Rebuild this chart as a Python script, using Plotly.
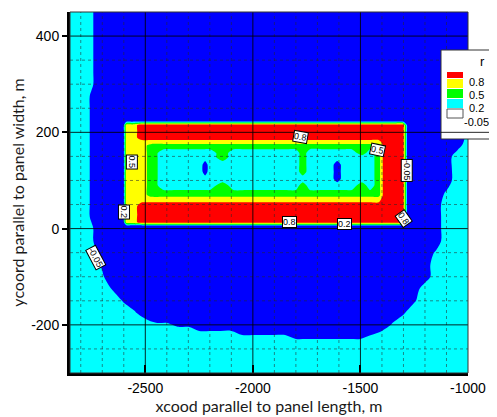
import plotly.graph_objects as go

# ---------------- data: digitised r field ----------------
# letter -> r value at that grid node (read from the picture's colour bands)
CODE_VALUE = {"B": -0.15, "b": -0.07, "c": -0.03, "C": 0.05,
              "G": 0.35, "Y": 0.65, "R": 0.95}

# contour levels of the legend and their fill colours
LEVELS = [-0.05, 0.2, 0.5, 0.8]
LEVEL_COLORS = ["#00ffff", "#00ff00", "#ffff00", "#ff0000"]
BELOW_COLOR = "#0000ff"

# coarse field over the whole window (x every 50 m, y every 25 m, rows top -> bottom)
OUTER_X = [-2850 + 50 * i for i in range(38)]
OUTER_Y = [450 - 25 * j for j in range(31)]
OUTER_ROWS = [
    "CCc" + "B" * 35,             # 450
    "CCc" + "B" * 35,             # 425
    "CCc" + "B" * 35,             # 400
    "CCc" + "B" * 35,             # 375
    "CCc" + "B" * 35,             # 350
    "CCc" + "B" * 35,             # 325
    "CCc" + "B" * 35,             # 300
    "CCb" + "B" * 35,             # 275
    "CCb" + "B" * 35,             # 250
    "CCb" + "B" * 35,             # 225
    "CCb" + "B" * 34 + "c",       # 200
    "CCb" + "B" * 34 + "C",       # 175
    "CCb" + "B" * 33 + "CC",      # 150
    "CCb" + "B" * 33 + "CC",      # 125
    "CCb" + "B" * 33 + "CC",      # 100
    "CCb" + "B" * 32 + "cCC",     # 75
    "CCb" + "B" * 32 + "CCC",     # 50
    "CCb" + "B" * 32 + "CCC",     # 25
    "CCc" + "B" * 32 + "CCC",     # 0
    "CCc" + "B" * 32 + "CCC",     # -25
    "CCC" + "B" * 31 + "cCCC",    # -50
    "CCCb" + "B" * 30 + "CCCC",   # -75
    "CCCc" + "B" * 30 + "CCCC",   # -100
    "CCCCb" + "B" * 28 + "CCCCC",  # -125
    "CCCCCb" + "B" * 26 + "bCCCCC",  # -150
    "CCCCCCc" + "B" * 24 + "bCCCCCC",  # -175
    "CCCCCCCCccbb" + "B" * 18 + "cCCCCCCC",  # -200
    "C" * 16 + "ccccc" + "bbbbbbb" + "c" + "C" * 9,  # -225
    "C" * 38,                     # -250
    "C" * 38,                     # -275
    "C" * 38,                     # -300
]

# fine field over the panel (rows top -> bottom)
INNER_X = [-2625, -2601, -2588, -2560, -2515, -2470, -2415, -2360, -2300, -2245,
           -2222, -2200, -2140, -2090, -2030, -1970, -1910, -1850, -1800, -1768,
           -1735, -1680, -1640, -1608, -1575, -1540, -1493, -1455, -1415, -1390,
           -1340, -1302, -1282, -1255]
INNER_Y = [240, 223, 215, 203, 189, 179, 173, 157, 148, 133,
           118, 103, 90, 70, 62, 47, 30, 13, 6, -15]
INNER_ROWS = [
    "B" * 34,                                         # 240
    "B" * 34,                                         # 223
    "BBYY" + "R" * 28 + "BB",                         # 215
    "BBYY" + "R" * 28 + "BB",                         # 203
    "BBYY" + "R" * 28 + "BB",                         # 189
    "BBYY" + "Y" * 25 + "RRRBB",                      # 179
    "BBYYY" + "G" * 24 + "RRRBB",                     # 173
    "BBYYYG" + "CCCCCCGCCCCCCGCCCCCCGC" + "GRRRBB",   # 157
    "BBYYYG" + "CCCCCCGCCCCCCGCCCCCCCC" + "GRRRBB",   # 148
    "BBYYYG" + "CCCCBCCCCCCCCGCCCBCCCC" + "GRRRBB",   # 133
    "BBYYYG" + "CCCCBCCCCCCCCGCCCBCCCC" + "GRRRBB",   # 118
    "BBYYYG" + "CCCCCCCCCCCCCCCCCBCCCC" + "GRRRBB",   # 103
    "BBYYYG" + "CCCCCCGCCCCCCGCCCCCCGC" + "GRRRBB",   # 90
    "BBYYY" + "G" * 24 + "RRRBB",                     # 70
    "BBYY" + "Y" * 25 + "RRRBB",                      # 62
    "BBYY" + "R" * 28 + "BB",                         # 47
    "BBYY" + "R" * 28 + "BB",                         # 30
    "BBYY" + "R" * 28 + "BB",                         # 13
    "B" * 34,                                         # 6
    "B" * 34,                                         # -15
]

# axis ticks
X_TICKS = [-2500, -2000, -1500, -1000]
X_TICK_TEXT = ["-2500", "-2000", "-1500", "-1000"]
Y_TICKS = [-200, 0, 200, 400]
Y_TICK_TEXT = ["-200", "0", "200", "400"]

# contour labels: (text, x, y, angle)
CONTOUR_LABELS = [
    ("-0.05", -2733, -60, 62),
    ("0.5", -2561, 139, 90),
    ("0.2", -2598, 35, 90),
    ("0.8", -1778, 190, 10),
    ("0.5", -1419, 163, 12),
    ("-0.05", -1284, 120, 90),
    ("0.8", -1829, 14, 0),
    ("0.2", -1573, 10, 0),
    ("0.8", -1302, 21, 55),
]

X_TITLE = "xcood parallel to panel length, m"
Y_TITLE = "ycoord parallel to panel width, m"
LEGEND_TITLE = "r"

# ---------------- build ----------------
for row in OUTER_ROWS:
    assert len(row) == len(OUTER_X), row
for row in INNER_ROWS:
    assert len(row) == len(INNER_X), row
assert len(OUTER_ROWS) == len(OUTER_Y) and len(INNER_ROWS) == len(INNER_Y)


def decode(rows):
    return [[CODE_VALUE[ch] for ch in row] for row in rows]


outer_z = decode(OUTER_ROWS)[::-1]
outer_y = OUTER_Y[::-1]
inner_z = decode(INNER_ROWS)[::-1]
inner_y = INNER_Y[::-1]

fig = go.Figure()

# constraint fills shade the region that violates the constraint,
# so "< level" paints every area where r is above that level
fig.add_trace(go.Contour(
    x=OUTER_X, y=outer_y, z=outer_z,
    contours=dict(type="constraint", operation="<", value=LEVELS[0]),
    fillcolor=LEVEL_COLORS[0], line=dict(width=0, smoothing=1.0),
    hoverinfo="skip", showscale=False, showlegend=False,
))
for lvl, col in zip(LEVELS, LEVEL_COLORS):
    fig.add_trace(go.Contour(
        x=INNER_X, y=inner_y, z=inner_z,
        contours=dict(type="constraint", operation="<", value=lvl),
        fillcolor=col, line=dict(width=0, smoothing=0.6),
        hoverinfo="skip", showscale=False, showlegend=False,
    ))

# page geometry: the html body adds an 8 px margin around the figure
OFF = 8
W, H = 497 - OFF, 417 - OFF
SL, SR, ST, SB = 70, 468, 12, 373          # plot area in window pixels
PL, PR, PT, PB = SL - OFF, SR - OFF, ST - OFF, SB - OFF


def px(x):
    return (x - SL) / (SR - SL)


def py(y):
    return (SB - y) / (SB - ST)


shapes = []
MAJOR = dict(color="rgba(0,0,0,0.85)", width=1)
MINOR = dict(color="rgba(40,40,40,0.55)", width=1, dash="dot")
x_major = X_TICKS[:-1]
for v in range(-2800, -1000, 100):
    if v not in x_major:
        shapes.append(dict(type="line", xref="x", yref="paper", x0=v, x1=v, y0=0, y1=1,
                           line=MINOR, layer="above"))
for v in range(-250, 450, 50):
    if v not in Y_TICKS:
        shapes.append(dict(type="line", xref="paper", yref="y", x0=0, x1=1, y0=v, y1=v,
                           line=MINOR, layer="above"))
for v in x_major:
    shapes.append(dict(type="line", xref="x", yref="paper", x0=v, x1=v, y0=0, y1=1,
                       line=MAJOR, layer="above"))
for v in Y_TICKS:
    shapes.append(dict(type="line", xref="paper", yref="y", x0=0, x1=1, y0=v, y1=v,
                       line=MAJOR, layer="above"))
# plot frame (top / right)
shapes.append(dict(type="rect", xref="paper", yref="paper", x0=0, x1=1, y0=0, y1=1,
                   line=dict(color="#333", width=1), layer="above"))

# legend box
shapes.append(dict(type="rect", xref="paper", yref="paper",
                   x0=px(441), x1=px(510), y0=py(139), y1=py(50),
                   fillcolor="white", line=dict(color="#333", width=1), layer="above"))
shapes.append(dict(type="line", xref="paper", yref="y", x0=px(441), x1=px(510), y0=200, y1=200,
                   line=MAJOR, layer="above"))
swatch_rows = [(72, 78), (79, 88), (89, 98), (99, 108)]
legend_colors = LEVEL_COLORS[::-1]
for (t, b), col in zip(swatch_rows, legend_colors):
    shapes.append(dict(type="rect", xref="paper", yref="paper",
                       x0=px(447), x1=px(463), y0=py(b), y1=py(t),
                       fillcolor=col, line=dict(width=0), layer="above"))
shapes.append(dict(type="rect", xref="paper", yref="paper",
                   x0=px(447), x1=px(463), y0=py(118), y1=py(109),
                   fillcolor="white", line=dict(color="#555", width=1), layer="above"))

annotations = []
legend_text_y = [82, 95, 108, 122]
for lvl, ty in zip(LEVELS[::-1], legend_text_y):
    txt = f"{lvl:g}"
    annotations.append(dict(xref="paper", yref="paper", x=px(463 if lvl < 0 else 468), y=py(ty),
                            text=txt, showarrow=False, xanchor="left", yanchor="middle",
                            borderpad=0,
                            font=dict(family="Liberation Sans, Arial", size=11, color="black")))
annotations.append(dict(xref="paper", yref="paper", x=px(482), y=py(61), text=LEGEND_TITLE,
                        showarrow=False, xanchor="center", yanchor="middle",
                        font=dict(family="Liberation Sans, Arial", size=13, color="black")))
for txt, lx, ly, ang in CONTOUR_LABELS:
    annotations.append(dict(x=lx, y=ly, xref="x", yref="y", text=txt, showarrow=False,
                            textangle=ang, bgcolor="white", bordercolor="black",
                            borderwidth=1, borderpad=0,
                            font=dict(family="Liberation Sans, Arial", size=9, color="black")))

fig.update_layout(
    width=W, height=H,
    margin=dict(l=PL, r=W - PR, t=PT, b=H - PB, autoexpand=False),
    paper_bgcolor="white", plot_bgcolor=BELOW_COLOR,
    shapes=shapes, annotations=annotations,
    xaxis=dict(range=[-2850, -1000], tickvals=X_TICKS, ticktext=X_TICK_TEXT,
               ticks="inside", ticklen=8, tickwidth=2, tickcolor="black",
               showline=True, linewidth=3, linecolor="black",
               showgrid=False, zeroline=False, automargin=False,
               tickfont=dict(family="Liberation Sans, Arial", size=14, color="black"),
               title=dict(text=X_TITLE, standoff=6,
                          font=dict(family="Lato", size=16, color="#1a1a1a"))),
    yaxis=dict(range=[-300, 450], tickvals=Y_TICKS, ticktext=Y_TICK_TEXT,
               ticks="outside", ticklen=5, tickwidth=2, tickcolor="black",
               showline=True, linewidth=3, linecolor="black",
               showgrid=False, zeroline=False, automargin=False,
               tickfont=dict(family="Liberation Sans, Arial", size=14, color="black"),
               title=dict(text=Y_TITLE, standoff=12,
                          font=dict(family="Lato", size=16, color="#1a1a1a"))),
)

fig.write_html("out.html")
